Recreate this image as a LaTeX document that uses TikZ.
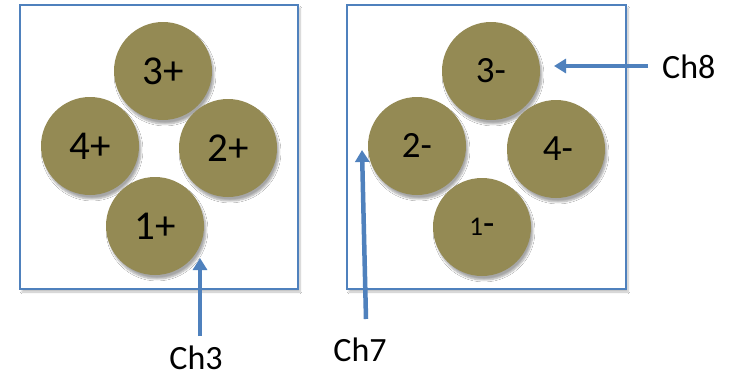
\documentclass[tikz,border=0pt]{standalone}
\usepackage{fontspec}
\setmainfont{Carlito}
\usetikzlibrary{arrows.meta,shadows.blur}
\definecolor{pad}{RGB}{148,138,84}
\definecolor{frameblue}{RGB}{79,129,189}
\tikzset{
  frame/.style={draw=frameblue, line width=1.2pt, fill=white,
    blur shadow={shadow xshift=2pt, shadow yshift=-3pt, shadow blur steps=6, shadow opacity=25}},
  pad/.style={circle, fill=pad, minimum size=98pt, inner sep=0pt,
    font=\fontsize{41}{43}\selectfont,
    blur shadow={shadow xshift=2pt, shadow yshift=-4pt, shadow blur steps=6, shadow opacity=35}},
  pointer/.style={draw=frameblue, line width=4.5pt, -{Triangle[width=14pt,length=12pt]}},
  chlabel/.style={font=\fontsize{34}{36}\selectfont, inner sep=0pt}
}
\begin{document}
\begin{tikzpicture}[x=1pt,y=-1pt]
  \useasboundingbox (0,0) rectangle (734,375);
  \fill[white] (0,0) rectangle (734,375);
  % housings
  \node[frame, minimum width=278pt, minimum height=284pt, inner sep=0pt] (boxL) at (159,147) {};
  \node[frame, minimum width=279pt, minimum height=284pt, inner sep=0pt] (boxR) at (486.5,147) {};
  % positive pins
  \node[pad] (p3) at (163,71) {3+};
  \node[pad] (p4) at (90,146) {4+};
  \node[pad] (p2) at (228,148) {2+};
  \node[pad] (p1) at (155,226) {1+};
  % negative pins
  \node[pad, font=\fontsize{37}{39}\selectfont] (m3) at (491,71) {3-};
  \node[pad, font=\fontsize{37}{39}\selectfont] (m2) at (417,146) {\raisebox{2pt}{2-}};
  \node[pad, font=\fontsize{37}{39}\selectfont] (m4) at (556,149) {\raisebox{-4pt}{\hspace{4pt}4-}};
  \node[pad, font=\fontsize{37}{39}\selectfont] (m1) at (482,227) {{\fontsize{27}{29}\selectfont 1}-};
  % channel labels
  \node[chlabel] (ch3) at (196,358) {Ch3};
  \node[chlabel] (ch7) at (360,350) {Ch7};
  \node[chlabel, anchor=west] (ch8) at (662,67) {Ch8};
  % pointers
  \coordinate (t3) at (200,258);
  \coordinate (s3) at (200,336);
  \coordinate (t7) at (362,150);
  \coordinate (s7) at (366,319);
  \coordinate (t8) at (554,66);
  \coordinate (s8) at (648,66);
  \draw[pointer] (s3) -- (t3);
  \draw[pointer] (s7) -- (t7);
  \draw[pointer] (s8) -- (t8);
\end{tikzpicture}
\end{document}
